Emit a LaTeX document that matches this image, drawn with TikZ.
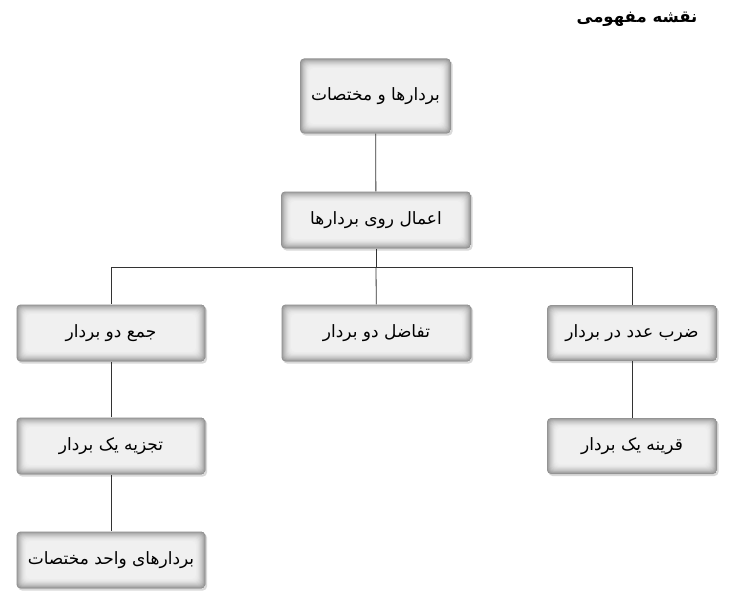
\documentclass[tikz,border=0pt]{standalone}
\usepackage{fontspec}
\newfontfamily\arabicfont[Script=Arabic]{DejaVu Sans}
\TeXXeTstate=1
\usetikzlibrary{shadows}
\tikzset{
  cbox/.style={rounded corners=4pt, fill=gray!12, inner sep=0pt,
    font=\arabicfont\fontsize{17}{20}\selectfont,
    drop shadow={opacity=0.3, shadow xshift=1.5pt, shadow yshift=-2pt},
    path picture={
      \foreach \i/\c in {0/85,1/74,2/64,3/55,4/47,5/40,6/34,7/28,8/23,9/19,10/16,11/14,12/12}{
        \fill[gray!\c!white, rounded corners=4pt]
          ([shift={(\i*0.8pt,\i*0.8pt)}]path picture bounding box.south west)
          rectangle
          ([shift={(-\i*0.8pt,-\i*0.8pt)}]path picture bounding box.north east);
      }
    }},
  link/.style={draw=black!80, line width=0.8pt}
}
\begin{document}
\begin{tikzpicture}[x=1pt,y=-1pt]
\useasboundingbox (0,0) rectangle (733,594);
\node[font=\arabicfont\bfseries\fontsize{16.5}{20}\selectfont] (title) at (637,19) {\beginR نقشه مفهومی\endR};
\node[cbox, minimum width=151pt, minimum height=75pt] (a) at (375.5,96) {\beginR بردارها و مختصات\endR};
\node[cbox, minimum width=190pt, minimum height=57pt] (b) at (376,220) {\beginR اعمال روی بردارها\endR};
\node[cbox, minimum width=189pt, minimum height=57pt] (c1) at (111,333) {\beginR جمع دو بردار\endR};
\node[cbox, minimum width=190pt, minimum height=57pt] (c2) at (376.5,333) {\beginR تفاضل دو بردار\endR};
\node[cbox, minimum width=170pt, minimum height=56pt] (c3) at (632,333) {\beginR ضرب عدد در بردار\endR};
\node[cbox, minimum width=189pt, minimum height=57pt] (d1) at (111,446) {\beginR تجزیه یک بردار\endR};
\node[cbox, minimum width=170pt, minimum height=56pt] (d3) at (632,446) {\beginR قرینه یک بردار\endR};
\node[cbox, minimum width=189pt, minimum height=57pt] (e1) at (111,560) {\beginR بردارهای واحد مختصات\endR};
\coordinate (j) at (376,267);
\draw[link] (a) -- (b);
\draw[link] (b) -- (j);
\draw[link] (j) -| (c1);
\draw[link] (j) -| (c3);
\draw[link] (j) -- (c2);
\draw[link] (c1) -- (d1);
\draw[link] (d1) -- (e1);
\draw[link] (c3) -- (d3);
\end{tikzpicture}
\end{document}
